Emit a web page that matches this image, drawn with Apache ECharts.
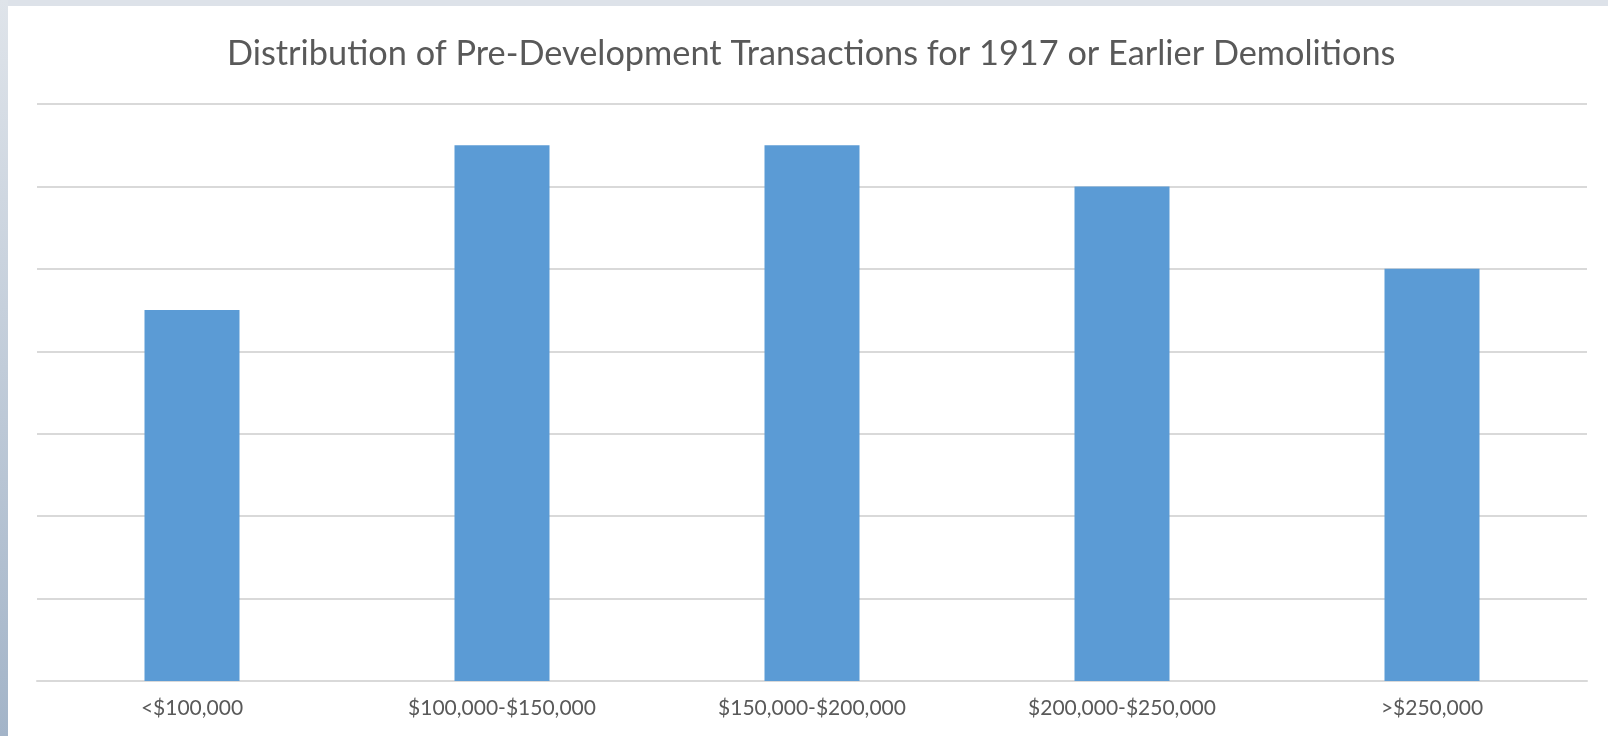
<!DOCTYPE html>
<html>
<head>
<meta charset="utf-8">
<script src="https://cdn.jsdelivr.net/npm/echarts@6/dist/echarts.min.js"></script>
<style>
  html, body { margin: 0; padding: 0; width: 1608px; height: 736px; overflow: hidden; background: #dde2e9; }
  #left { position: absolute; left: 0; top: 0; width: 8px; height: 736px; background: linear-gradient(#dfe4ea, #a3b4c8); }
  #chart { position: absolute; left: 8px; top: 6px; width: 1600px; height: 730px; background: #ffffff; }
</style>
</head>
<body>
<div id="left"></div>
<div id="chart"></div>
<script>
const titleText = 'Distribution of Pre-Development Transactions for 1917 or Earlier Demolitions';
const categories = ['<$100,000', '$100,000-$150,000', '$150,000-$200,000', '$200,000-$250,000', '>$250,000'];
const values = [4.5, 6.5, 6.5, 6, 5];
const yMin = 0;
const yMax = 7;
const yInterval = 1;

const chart = echarts.init(document.getElementById('chart'), null, { renderer: 'canvas' });
chart.setOption({
  backgroundColor: '#ffffff',
  animation: false,
  title: {
    text: titleText,
    left: 214,
    top: 26,
    textStyle: { fontFamily: 'Lato', fontSize: 34.3, fontWeight: 'normal', color: '#595959' }
  },
  grid: { left: 29, right: 21, top: 98, bottom: 55 },
  xAxis: {
    type: 'category',
    data: categories,
    axisLine: { show: true, lineStyle: { color: '#d9d9d9', width: 2 } },
    axisTick: { show: false },
    axisLabel: { fontFamily: 'Lato', fontSize: 21, color: '#595959', margin: 17 }
  },
  yAxis: {
    type: 'value',
    min: yMin,
    max: yMax,
    interval: yInterval,
    axisLine: { show: false },
    axisTick: { show: false },
    axisLabel: { show: false },
    splitLine: { lineStyle: { color: '#d9d9d9', width: 2 } }
  },
  series: [{
    type: 'bar',
    data: values,
    barWidth: 95,
    itemStyle: { color: '#5b9bd5' }
  }]
});
</script>
</body>
</html>
